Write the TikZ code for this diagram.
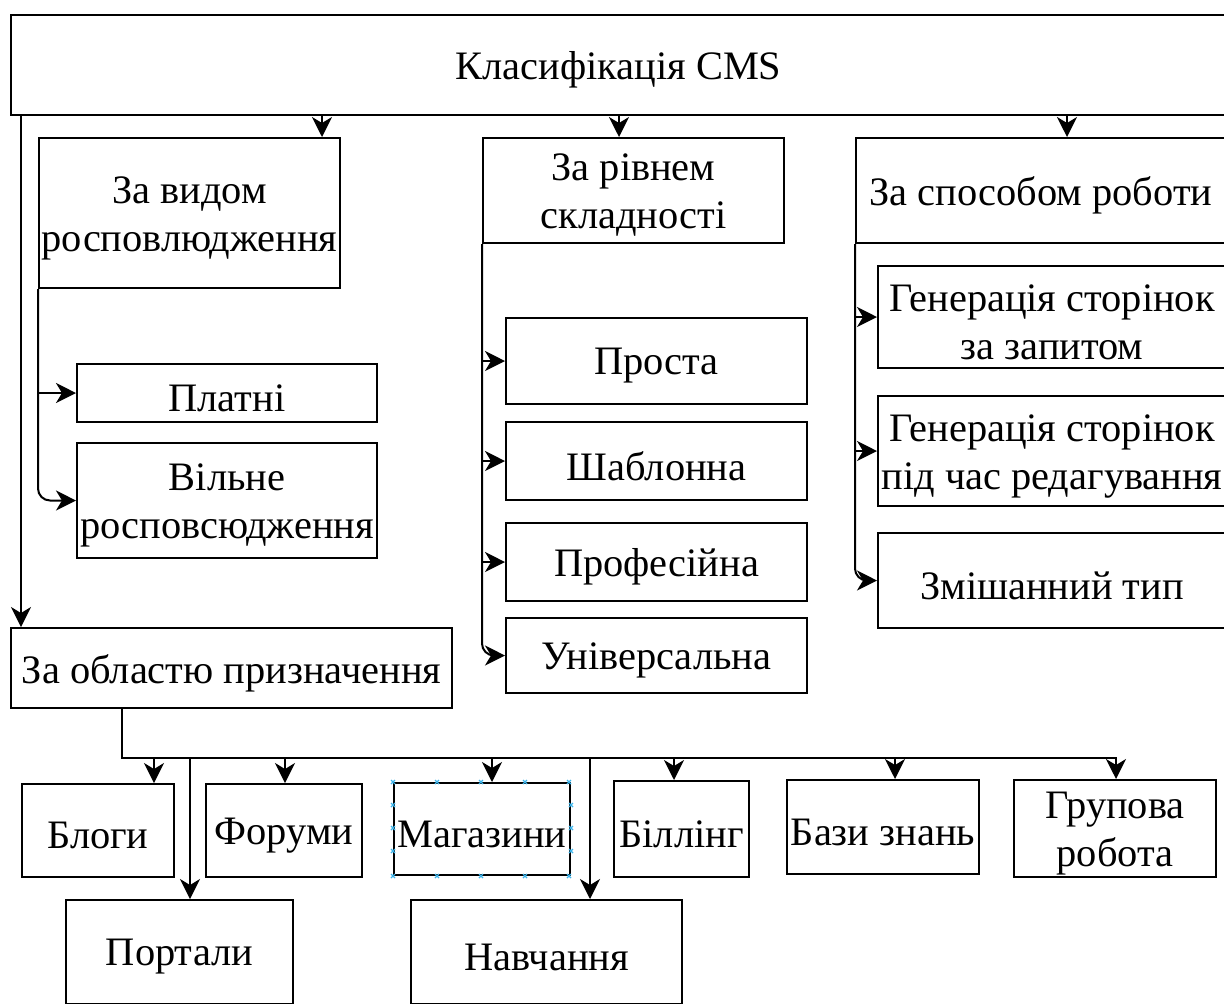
\documentclass[tikz,border=0pt]{standalone}
\usepackage{fontspec}
\setmainfont{Liberation Serif}
\usepackage{tikz}
\usetikzlibrary{arrows.meta, positioning}
\tikzset{
  boxnode/.style={draw, rectangle, line width=1pt, inner sep=1pt,
    label={[yshift=-2.5pt, align=center, font=\fontsize{20.2}{24}\selectfont]center:#1}},
  arrow/.style={-{Stealth[length=10pt, width=10pt, inset=3pt]}, line width=1pt},
  handle/.style={draw={rgb,255:red,60;green,180;blue,235}, line width=0.6pt}
}

\begin{document}
\begin{tikzpicture}[x=0.5pt, y=-0.5pt]
\useasboundingbox (0,0) rectangle (1224,1003);
\clip (0,0) rectangle (1224,1003);

% Nodes
\node[boxnode={Класифікація CMS}, minimum width=607.5pt, minimum height=50pt] (root) at (618.5,65) {};
\node[boxnode={За видом\\росповлюдження}, minimum width=150.5pt, minimum height=75pt] (vid) at (189.5,213) {};
\node[boxnode={За рівнем\\складності}, minimum width=150.5pt, minimum height=52.5pt] (rivn) at (633.5,190.5) {};
\node[boxnode={За способом роботи}, minimum width=185pt, minimum height=52.5pt] (spos) at (1041,190.5) {};

\node[boxnode={Платні}, minimum width=150pt, minimum height=29pt] (platni) at (227,393) {};
\node[boxnode={Вільне\\росповсюдження}, minimum width=150pt, minimum height=57.5pt] (vilne) at (227,500.5) {};

\node[boxnode={Проста}, minimum width=150.5pt, minimum height=43pt] (prosta) at (656.5,361) {};
\node[boxnode={Шаблонна}, minimum width=150.5pt, minimum height=39pt] (shabl) at (656.5,461) {};
\node[boxnode={Професійна}, minimum width=150.5pt, minimum height=39pt] (prof) at (656.5,562) {};
\node[boxnode={Універсальна}, minimum width=150.5pt, minimum height=37.5pt] (univ) at (656.5,655.5) {};

\node[boxnode={Генерація сторінок\\за запитом}, minimum width=174pt, minimum height=51pt] (genzap) at (1052,317) {};
\node[boxnode={Генерація сторінок\\під час редагування}, minimum width=174pt, minimum height=55pt] (genred) at (1052,451) {};
\node[boxnode={Змішанний тип}, minimum width=174pt, minimum height=47.5pt] (zmish) at (1052,580.5) {};

\node[boxnode={За областю призначення}, minimum width=220.5pt, minimum height=40pt] (obl) at (231.5,668) {};

\node[boxnode={Блоги}, minimum width=76pt, minimum height=46.5pt] (blogy) at (98,830.5) {};
\node[boxnode={Форуми}, minimum width=78pt, minimum height=46.5pt] (forumy) at (284,830.5) {};
\node[boxnode={Магазини}, minimum width=88pt, minimum height=46pt] (magaz) at (482,829) {};
\node[boxnode={Біллінг}, minimum width=67.5pt, minimum height=48pt] (bil) at (681.5,829) {};
\node[boxnode={Бази знань}, minimum width=96pt, minimum height=47pt] (bazy) at (883,827) {};
\node[boxnode={Групова\\робота}, minimum width=101pt, minimum height=48.5pt] (grup) at (1115,828.5) {};
\node[boxnode={Портали}, minimum width=113.5pt, minimum height=52pt] (portaly) at (179.5,952) {};
\node[boxnode={Навчання}, minimum width=135.5pt, minimum height=52pt] (navch) at (546.5,952) {};

% selection handles
\foreach \t in {0,...,4} {
  \draw[handle] ([xshift=\t*22pt]magaz.north west) +(-2,-2) -- +(2,2) +(-2,2) -- +(2,-2);
  \draw[handle] ([xshift=\t*22pt]magaz.south west) +(-2,-2) -- +(2,2) +(-2,2) -- +(2,-2);
}
\foreach \t in {1,2,3} {
  \draw[handle] ([yshift=-\t*11.5pt]magaz.north west) +(-2,-2) -- +(2,2) +(-2,2) -- +(2,-2);
  \draw[handle] ([yshift=-\t*11.5pt]magaz.north east) +(-2,-2) -- +(2,2) +(-2,2) -- +(2,-2);
}

% Entry points
\coordinate (vidin) at ([xshift=66.25pt]vid.north);
\coordinate (rivnin) at ([xshift=-7.25pt]rivn.north);
\coordinate (sposin) at ([xshift=13pt]spos.north);
\coordinate (oblin) at ([xshift=5.5pt]obl.north west);
\coordinate (bus) at (122,758);
\coordinate (blogyin) at ([xshift=28pt]blogy.north);
\coordinate (forumyin) at ([xshift=0.5pt]forumy.north);
\coordinate (magazin) at ([xshift=5pt]magaz.north);
\coordinate (bilin) at ([xshift=-3.75pt]bil.north);
\coordinate (bazyin) at ([xshift=6pt]bazy.north);
\coordinate (grupin) at ([xshift=0.5pt]grup.north);
\coordinate (portalyin) at ([xshift=5.25pt]portaly.north);
\coordinate (navchin) at ([xshift=21.75pt]navch.north);

% Edges
\draw[arrow] (vidin |- root.south) -- (vidin);
\draw[arrow] (rivnin |- root.south) -- (rivnin);
\draw[arrow] (sposin |- root.south) -- (sposin);
\draw[arrow] (oblin |- root.south) -- (oblin);

\draw[arrow] (vid.south west) |- (platni.west);
\draw[arrow, rounded corners=6pt] (vid.south west) |- (vilne.west);

\draw[arrow] (rivn.south west) |- (prosta.west);
\draw[arrow] (rivn.south west) |- (shabl.west);
\draw[arrow] (rivn.south west) |- (prof.west);
\draw[arrow, rounded corners=6pt] (rivn.south west) |- (univ.west);

\draw[arrow] (spos.south west) |- (genzap.west);
\draw[arrow] (spos.south west) |- (genred.west);
\draw[arrow, rounded corners=6pt] (spos.south west) |- (zmish.west);

\draw[arrow] (obl.south -| bus) -- (bus) -| (blogyin);
\draw[arrow] (obl.south -| bus) -- (bus) -| (forumyin);
\draw[arrow] (obl.south -| bus) -- (bus) -| (magazin);
\draw[arrow] (obl.south -| bus) -- (bus) -| (bilin);
\draw[arrow] (obl.south -| bus) -- (bus) -| (bazyin);
\draw[arrow] (obl.south -| bus) -- (bus) -| (grupin);
\draw[arrow] (obl.south -| bus) -- (bus) -| (portalyin);
\draw[arrow] (obl.south -| bus) -- (bus) -| (navchin);

\end{tikzpicture}
\end{document}
